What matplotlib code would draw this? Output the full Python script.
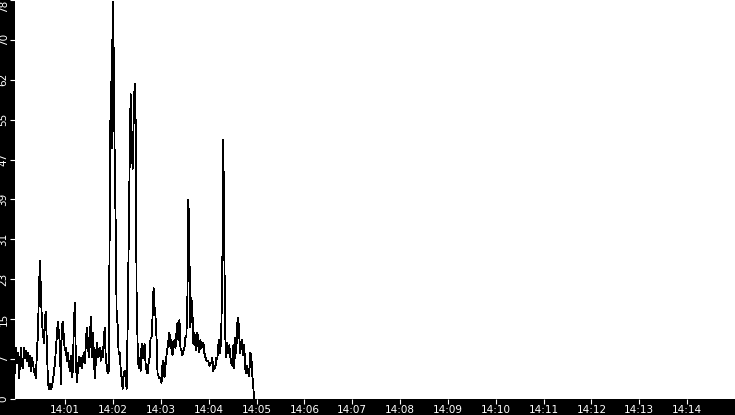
import pandas as pd
import matplotlib
matplotlib.use("Agg")
import matplotlib.pyplot as plt
import matplotlib.dates as mdates

# samples every 1.25 s starting just before 14:00
start = "2024-01-01 13:59:57"
step = "1250ms"

rate = [
    5, 10, 7, 9, 4, 7, 10, 6.5, 6, 10, 8, 9.5, 7.5, 9, 6.5, 8.5, 5.5, 8, 7, 5.5,
    5, 4, 9.5, 12.5, 21, 27, 21, 15, 13, 11, 16, 17, 10, 3.5, 2, 3, 2, 2.5, 3.5, 5,
    7, 9.5, 12.5, 15, 13, 11, 3, 14.5, 15, 12, 9.5, 10, 7.5, 9, 7, 5.5, 8.5, 4.3, 5.5, 14,
    18.8, 8.2, 3.3, 5.5, 8.2, 6.5, 8, 6, 7.5, 9, 7, 10.5, 14, 11.5, 8.2, 10.5, 16, 8.2, 13, 9.5,
    4, 7, 11, 8.2, 9.5, 10, 7.5, 9.5, 8.2, 11, 14, 8.2, 6.5, 5, 5.5, 34, 62, 49, 77.7, 68,
    47, 34, 16, 14.5, 8.8, 9, 6, 4, 2, 5, 5.5, 4, 2, 14, 30, 45.7, 59.6, 50, 45, 54,
    61.6, 54.5, 20.6, 10.8, 6, 8, 5.5, 10.8, 8, 9, 10.8, 7, 5.5, 5, 7, 8, 12, 12, 16, 21.8,
    18, 16, 12, 5, 4.5, 4, 4.2, 3.2, 6.8, 7.5, 4.2, 6.5, 8.5, 10, 11.5, 13, 10, 11.5, 8.5, 9.8,
    11.5, 10, 13, 14.9, 11.5, 15.4, 10, 9.5, 8.5, 9.5, 10, 12, 12.5, 20, 39, 28.4, 14, 19.8, 17, 10.8,
    13, 10.5, 9.5, 13, 11, 9.2, 11.5, 10, 10.2, 11, 9, 8.2, 7.5, 7.4, 7.4, 6.5, 7, 7, 8, 5.5,
    6.5, 6, 8, 7.8, 10.5, 11.5, 9, 13.5, 25, 50.6, 29, 12, 8.2, 11, 9, 10.5, 8.2, 7, 6.5, 10.5,
    6, 12, 9, 14.7, 15.8, 12.5, 9, 11, 11.5, 8.5, 10.5, 6, 5, 6.5, 5, 4.5, 9, 8.8, 5, 2.4, 0,
]

y_ticks = [0, 7.8, 15.6, 23.4, 31.2, 39, 46.8, 54.6, 62.4, 70.2, 78]
y_labels = ["0", "7", "15", "23", "31", "39", "47", "55", "62", "70", "78"]

times = pd.date_range(start, periods=len(rate), freq=step)
x_ticks = pd.date_range("2024-01-01 14:01", "2024-01-01 14:14", freq="1min")

fig = plt.figure(figsize=(7.35, 4.15), dpi=100, facecolor="black")
ax = fig.add_axes([15 / 735, 16 / 415, 720 / 735, 399 / 415])
ax.set_facecolor("white")

ax.plot(times, rate, color="black", lw=0.6, antialiased=False)

ax.set_xlim(pd.Timestamp("2024-01-01 13:59:57"), pd.Timestamp("2024-01-01 14:15:00"))
ax.set_ylim(0, 78)

ax.set_xticks(x_ticks)
ax.xaxis.set_major_formatter(mdates.DateFormatter("%H:%M"))
ax.set_yticks(y_ticks)
ax.set_yticklabels(y_labels, rotation=90, va="center")

ax.tick_params(axis="both", colors="white", length=3.6, width=0.8, labelsize=7.5, pad=1)
ax.get_yticklabels()[-1].set_va("top")

for s in ax.spines.values():
    s.set_visible(False)

fig.savefig("out.png", dpi=100, facecolor="black")
